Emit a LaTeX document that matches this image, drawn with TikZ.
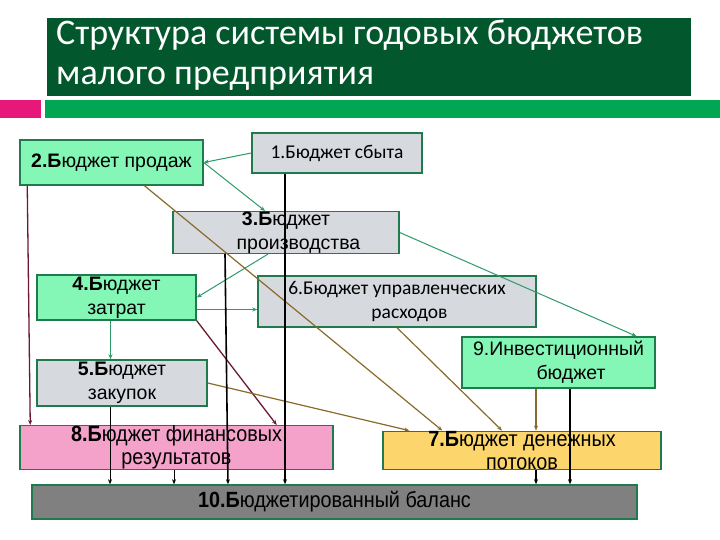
\documentclass[tikz,border=0pt]{standalone}
\usepackage{fontspec}
\setmainfont{Liberation Sans}
\newfontfamily\calfont{Carlito}
\newfontfamily\narrowfont[FakeStretch=0.9]{Liberation Sans}
\usepackage{xcolor}
\usetikzlibrary{arrows.meta, positioning}
\definecolor{ttlgreen}{HTML}{02582C}
\definecolor{bargreen}{HTML}{00A652}
\definecolor{barpink}{HTML}{E8187A}
\definecolor{bordgreen}{HTML}{1F7A4D}
\definecolor{mintfill}{HTML}{84F6B6}
\definecolor{greyfill}{HTML}{D6D9DE}
\definecolor{pinkfill}{HTML}{F4A2C9}
\definecolor{yellfill}{HTML}{FCD66C}
\definecolor{darkfill}{HTML}{808080}
\definecolor{arrgreen}{HTML}{2E9A68}
\definecolor{arrmaroon}{HTML}{6B1A30}
\definecolor{arrolive}{HTML}{8A6A2A}
\newcommand{\lnshift}{\hspace*{25pt}}
\tikzset{
  bgtnode/.style={draw=bordgreen,line width=1.5pt,inner sep=0pt,align=center,
    font=\fontsize{19.5}{24}\selectfont},
  mintnode/.style={bgtnode,fill=mintfill},
  greynode/.style={bgtnode,fill=greyfill},
  calnode/.style={greynode,font=\calfont\fontsize{19.5}{24}\selectfont},
  nrwnode/.style={bgtnode,font=\narrowfont\fontsize{22}{23}\selectfont},
  grnedge/.style={-{Stealth[length=5pt,width=4pt]},line width=1pt,arrgreen},
  mrnedge/.style={-{Stealth[length=5pt,width=4pt]},line width=1.3pt,arrmaroon},
  olvedge/.style={-{Stealth[length=5pt,width=4pt]},line width=1.2pt,arrolive},
  blkedge/.style={-{Stealth[length=5pt,width=4pt]},line width=1.6pt,black},
  thinedge/.style={blkedge,line width=0.9pt},
}

\begin{document}
\begin{tikzpicture}[x=1pt,y=-1pt]
  \useasboundingbox[fill=white] (0,0) rectangle (720,540);
  % title
  \node[fill=ttlgreen,minimum width=644pt,minimum height=78pt,inner sep=0pt,anchor=north west] (ttlbox) at (47,18) {};
  \node[anchor=north west,align=left,text=white,inner sep=0pt,
    font=\calfont\fontsize{36}{40}\selectfont] (ttl) at (56,20)
    {Структура системы годовых бюджетов\\малого предприятия};
  \fill[barpink] (0,100) rectangle (41,118);
  \fill[bargreen] (45,100) rectangle (720,118);
  % budget boxes
  \node[calnode,minimum width=170pt,minimum height=40pt] (b1) at (337,153) {1.Бюджет сбыта};
  \node[mintnode,minimum width=183pt,minimum height=45pt] (b2) at (111.5,162.5) {\textbf{2.Б}юджет продаж};
  \node[greynode,minimum width=226pt,minimum height=41pt] (b3) at (286,232.5) {\textbf{3.Б}юджет\\\lnshift производства};
  \node[mintnode,minimum width=159pt,minimum height=45pt] (b4) at (116.5,297.5) {\textbf{4.Б}юджет\\затрат};
  \node[calnode,minimum width=278pt,minimum height=51pt] (b6) at (397,301.5) {6.Бюджет управленческих\\\lnshift расходов};
  \node[mintnode,minimum width=193pt,minimum height=51pt] (b9) at (558.5,362.5) {9.Инвестиционный\\\lnshift бюджет};
  \node[greynode,minimum width=170pt,minimum height=46pt] (b5) at (122,383) {\textbf{5.Б}юджет\\закупок};
  \node[nrwnode,fill=pinkfill,minimum width=313pt,minimum height=39pt] (b8) at (176.5,447.5) {\textbf{8.Б}юджет финансовых\\результатов};
  \node[nrwnode,fill=yellfill,minimum width=278pt,minimum height=35pt] (b7) at (522,450.5) {\textbf{7.Б}юджет денежных\\потоков};
  \node[nrwnode,fill=darkfill,minimum width=605pt,minimum height=34pt] (b10) at (334.5,502) {\textbf{10.Б}юджетированный баланс};
  % green links
  \draw[grnedge] (b1.west) -- (b2.east);
  \draw[grnedge] (b2.east) -- ([xshift=-21pt]b3.north);
  \draw[grnedge] ([xshift=-18pt]b3.south) -- (b4.east);
  \draw[grnedge] ([yshift=-12pt]b4.east) -- ([yshift=-12pt]b4.east -| b6.west);
  \draw[grnedge] ([xshift=-6pt]b4.south) -- ([xshift=-6pt]b4.south |- b5.north);
  \draw[grnedge] (b3.east) -- ([xshift=78pt]b9.north);
  % maroon links
  \draw[mrnedge] ([xshift=8pt]b2.south west) -- ([xshift=11pt]b8.north west);
  \draw[mrnedge] (b4.south east) -- ([xshift=-57pt]b8.north east);
  % olive links
  \draw[olvedge] ([xshift=33pt]b2.south) -- ([xshift=60pt]b7.north west);
  \draw[olvedge] (b6.south) -- ([xshift=-20pt]b7.north);
  \draw[olvedge] (b5.east) -- ([xshift=27pt]b7.north west);
  \draw[olvedge] ([xshift=-22.5pt]b9.south) -- ([xshift=-22.5pt]b9.south |- b7.north);
  % black links to the balance
  \draw[blkedge] ([xshift=-52pt]b1.south) -- ([xshift=-52pt]b1.south |- b10.north);
  \draw[blkedge] ([xshift=-61pt]b3.south) -- ([xshift=-106.5pt]b10.north);
  \draw[thinedge] ([xshift=-12pt]b5.south) -- ([xshift=-12pt]b5.south |- b10.north);
  \draw[thinedge] ([xshift=-2.5pt]b8.south) -- ([xshift=-2.5pt]b8.south |- b10.north);
  \draw[blkedge] ([xshift=14pt]b7.south) -- ([xshift=14pt]b7.south |- b10.north);
  \draw[blkedge] ([xshift=11.5pt]b9.south) -- ([xshift=11.5pt]b9.south |- b10.north);
\end{tikzpicture}
\end{document}
